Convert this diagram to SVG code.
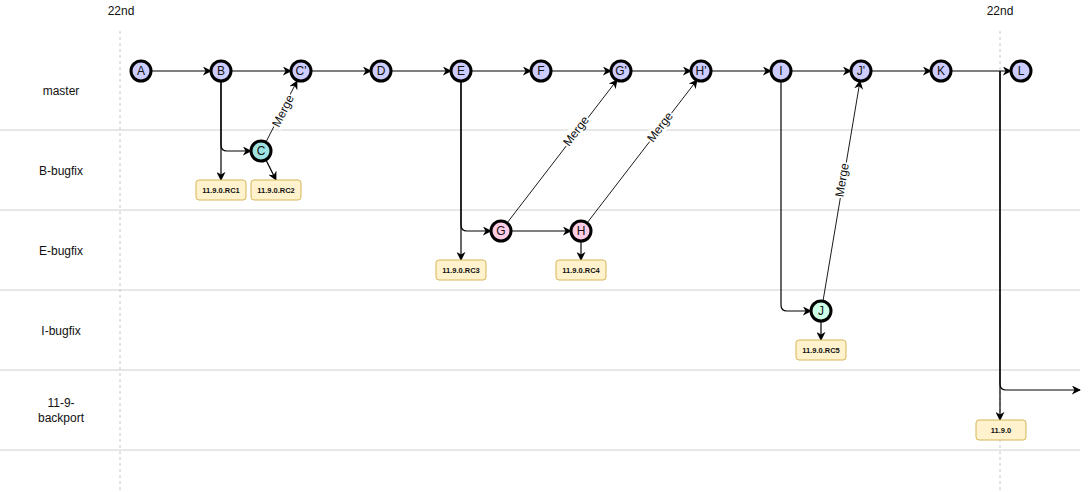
<svg xmlns="http://www.w3.org/2000/svg" width="1089" height="492" viewBox="0 0 1089 492">
<style>
.lane{stroke:#cfcfcf;stroke-width:1}
.vdash{stroke:#c8c8c8;stroke-width:1;stroke-dasharray:3 3}
.lbl{font-family:"Liberation Sans",Arial,sans-serif;font-size:12px;fill:#111;text-anchor:middle}
.n circle{stroke:#000;stroke-width:3}
.n text{font-family:"Liberation Sans",Arial,sans-serif;font-size:12px;fill:#111;text-anchor:middle;dominant-baseline:central}
.m{fill:#ccccff}.c{fill:#9fe2e2}.p{fill:#ffcce6}.g{fill:#ccffe6}
.tag rect{fill:#fff2cc;stroke:#d6b656;stroke-width:1}
.tag text{font-family:"Liberation Sans",Arial,sans-serif;font-size:7.5px;font-weight:bold;fill:#111;text-anchor:middle;dominant-baseline:central}
.e{fill:none;stroke:#000;stroke-width:1.2;marker-end:url(#ah)}
.mg{fill:none;stroke:#000;stroke-width:0.9;marker-end:url(#ah)}
.ml{font-family:"Liberation Sans",Arial,sans-serif;font-size:12px;fill:#111;text-anchor:middle;dominant-baseline:central}
</style>
<defs>
<marker id="ah" viewBox="0 0 10 10" refX="9" refY="5" markerWidth="9" markerHeight="9" markerUnits="userSpaceOnUse" orient="auto">
<path d="M0,0 L10,5 L0,10 L3,5 Z" fill="#000"/>
</marker>
</defs>
<rect width="1089" height="492" fill="#fff"/>
<g id="grid">
<line class="lane" x1="0" y1="130" x2="1080" y2="130"/>
<line class="lane" x1="0" y1="210" x2="1080" y2="210"/>
<line class="lane" x1="0" y1="290" x2="1080" y2="290"/>
<line class="lane" x1="0" y1="370" x2="1080" y2="370"/>
<line class="lane" x1="0" y1="450" x2="1080" y2="450"/>
<line class="vdash" x1="120" y1="31" x2="120" y2="492"/>
<line class="vdash" x1="1000" y1="31" x2="1000" y2="492"/>
<text class="lbl" x="121" y="15">22nd</text>
<text class="lbl" x="1000" y="15">22nd</text>
<text class="lbl" x="61" y="95">master</text>
<text class="lbl" x="61" y="175">B-bugfix</text>
<text class="lbl" x="61" y="255">E-bugfix</text>
<text class="lbl" x="61" y="335">I-bugfix</text>
<text class="lbl" x="61" y="407">11-9-</text>
<text class="lbl" x="61" y="422">backport</text>
</g>
<g id="connectors">
<path class="e" d="M151,71 H211"/>
<path class="e" d="M231,71 H291"/>
<path class="e" d="M311,71 H371"/>
<path class="e" d="M391,71 H451"/>
<path class="e" d="M471,71 H531"/>
<path class="e" d="M551,71 H611"/>
<path class="e" d="M631,71 H691"/>
<path class="e" d="M711,71 H771"/>
<path class="e" d="M791,71 H851"/>
<path class="e" d="M871,71 H931"/>
<path class="e" d="M951,71 H1011"/>
<path class="e" d="M221,81 V180"/>
<path class="e" d="M221,81 V145 Q221,151 227,151 H251"/>
<path class="e" d="M266,160 L276,180"/>
<path class="mg" d="M266,142 L297,81"/>
<path class="e" d="M461,81 V260"/>
<path class="e" d="M461,81 V225 Q461,231 467,231 H491"/>
<path class="e" d="M511,231 H571"/>
<path class="e" d="M581,241 V260"/>
<path class="mg" d="M507,223 L617,80"/>
<path class="mg" d="M587,223 L697,80"/>
<path class="e" d="M781,81 V305 Q781,311 787,311 H811"/>
<path class="e" d="M821,321 V340"/>
<path class="mg" d="M823,301 L860,81"/>
<path class="e" d="M1000,71 V420"/>
<path class="e" d="M1000,71 V384 Q1000,390 1006,390 H1080"/>
<g>
<rect x="265" y="104" width="36" height="14" fill="#fff" transform="rotate(-63.4 283 111)"/>
<text class="ml" x="283" y="111" transform="rotate(-63.4 283 111)">Merge</text>
<rect x="558" y="124" width="36" height="14" fill="#fff" transform="rotate(-53.1 576 131)"/>
<text class="ml" x="576" y="131" transform="rotate(-53.1 576 131)">Merge</text>
<rect x="642" y="120" width="36" height="14" fill="#fff" transform="rotate(-53.1 660 127)"/>
<text class="ml" x="660" y="127" transform="rotate(-53.1 660 127)">Merge</text>
<rect x="824" y="173" width="36" height="14" fill="#fff" transform="rotate(-80.5 842 180)"/>
<text class="ml" x="842" y="180" transform="rotate(-80.5 842 180)">Merge</text>
</g>
</g>
<g id="nA" class="n"><circle class="m" cx="141" cy="71" r="10"/><text x="141" y="71">A</text></g>
<g id="nB" class="n"><circle class="m" cx="221" cy="71" r="10"/><text x="221" y="71">B</text></g>
<g id="nC2" class="n"><circle class="m" cx="301" cy="71" r="10"/><text x="301" y="71">C'</text></g>
<g id="nD" class="n"><circle class="m" cx="381" cy="71" r="10"/><text x="381" y="71">D</text></g>
<g id="nE" class="n"><circle class="m" cx="461" cy="71" r="10"/><text x="461" y="71">E</text></g>
<g id="nF" class="n"><circle class="m" cx="541" cy="71" r="10"/><text x="541" y="71">F</text></g>
<g id="nG2" class="n"><circle class="m" cx="621" cy="71" r="10"/><text x="621" y="71">G'</text></g>
<g id="nH2" class="n"><circle class="m" cx="701" cy="71" r="10"/><text x="701" y="71">H'</text></g>
<g id="nI" class="n"><circle class="m" cx="781" cy="71" r="10"/><text x="781" y="71">I</text></g>
<g id="nJ2" class="n"><circle class="m" cx="861" cy="71" r="10"/><text x="861" y="71">J'</text></g>
<g id="nK" class="n"><circle class="m" cx="941" cy="71" r="10"/><text x="941" y="71">K</text></g>
<g id="nL" class="n"><circle class="m" cx="1021" cy="71" r="10"/><text x="1021" y="71">L</text></g>
<g id="nC" class="n"><circle class="c" cx="261" cy="151" r="10"/><text x="261" y="151">C</text></g>
<g id="nG" class="n"><circle class="p" cx="501" cy="231" r="10"/><text x="501" y="231">G</text></g>
<g id="nH" class="n"><circle class="p" cx="581" cy="231" r="10"/><text x="581" y="231">H</text></g>
<g id="nJ" class="n"><circle class="g" cx="821" cy="311" r="10"/><text x="821" y="311">J</text></g>
<g id="tRC1" class="tag"><rect x="196" y="180" width="50" height="20" rx="3"/><text x="221" y="190">11.9.0.RC1</text></g>
<g id="tRC2" class="tag"><rect x="251" y="180" width="50" height="20" rx="3"/><text x="276" y="190">11.9.0.RC2</text></g>
<g id="tRC3" class="tag"><rect x="436" y="260" width="50" height="20" rx="3"/><text x="461" y="270">11.9.0.RC3</text></g>
<g id="tRC4" class="tag"><rect x="556" y="260" width="50" height="20" rx="3"/><text x="581" y="270">11.9.0.RC4</text></g>
<g id="tRC5" class="tag"><rect x="796" y="340" width="50" height="20" rx="3"/><text x="821" y="350">11.9.0.RC5</text></g>
<g id="t1190" class="tag"><rect x="976" y="420" width="50" height="20" rx="3"/><text x="1001" y="430">11.9.0</text></g>
</svg>
